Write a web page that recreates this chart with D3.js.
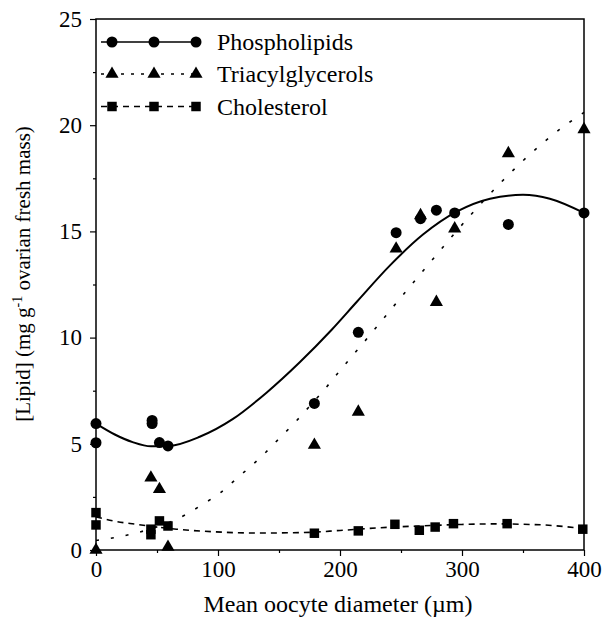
<!DOCTYPE html>
<html>
<head>
<meta charset="utf-8">
<script src="https://cdn.jsdelivr.net/npm/d3@7"></script>
<style>
  body { margin: 0; background: #fff; }
  svg text { font-family: "Liberation Serif", "Times New Roman", serif; fill: #000; }
</style>
</head>
<body>
<div class="chart"></div>
<script>
// measured points, x = mean oocyte diameter (um), y = lipid (mg/g)
var phosX = [0, 0, 46, 46, 52, 59, 179, 215, 246, 266, 279, 294, 338, 400];
var phosY = [5.95, 5.05, 6.1, 5.95, 5.06, 4.9, 6.9, 10.25, 14.94, 15.6, 16.0, 15.87, 15.33, 15.87];

var trigX = [0, 45, 52, 59, 179, 215, 246, 266, 279, 294, 338, 400];
var trigY = [0, 3.4, 2.86, 0.14, 4.94, 6.5, 14.18, 15.75, 11.67, 15.13, 18.67, 19.8];

var cholX = [0, 0, 45, 45, 52, 59, 179, 215, 245, 265, 278, 293, 337, 399];
var cholY = [1.76, 1.18, 0.72, 0.98, 1.37, 1.13, 0.79, 0.9, 1.21, 0.93, 1.08, 1.24, 1.24, 0.98];

// fitted curves
var phosFitX = [0, 15, 30, 45, 60, 85, 112, 140, 167, 193, 214, 241, 268, 296, 323, 350, 372, 400];
var phosFitY = [5.95, 5.45, 5.08, 4.88, 4.9, 5.33, 6.16, 7.42, 8.84, 10.36, 11.7, 13.4, 14.85, 15.94, 16.54, 16.72, 16.54, 15.87];

var trigFitX = [0, 15, 30, 45, 60, 74, 88, 102, 114, 127, 139, 151, 163, 174, 186, 197, 208, 219, 241, 274, 308, 331, 354, 380, 400];
var trigFitY = [0.45, 0.58, 0.76, 1.0, 1.3, 1.68, 2.17, 2.7, 3.3, 3.95, 4.59, 5.3, 6.0, 6.7, 7.47, 8.24, 9.0, 9.74, 11.27, 13.55, 15.83, 17.25, 18.54, 19.8, 20.6];

var cholFitX = [0, 14, 33, 66, 96, 132, 170, 200, 230, 265, 298, 326, 350, 367, 400];
var cholFitY = [1.56, 1.37, 1.21, 0.98, 0.86, 0.8, 0.82, 0.92, 1.04, 1.13, 1.2, 1.23, 1.21, 1.18, 1.0];

var xTicks = [0, 100, 200, 300, 400];
var xMinor = [50, 150, 250, 350];
var yTicks = [0, 5, 10, 15, 20, 25];
var yMinor = [2.5, 7.5, 12.5, 17.5, 22.5];

var seriesNames = ["Phospholipids", "Triacylglycerols", "Cholesterol"];

var W = 604, H = 621;
var pLeft = 96, pRight = 584, pTop = 19, pBottom = 550;

var svg = d3.select(".chart").append("svg").attr("width", W).attr("height", H);

var x = d3.scaleLinear().domain([0, 400]).range([pLeft, pRight]);
var y = d3.scaleLinear().domain([0, 25]).range([pBottom, pTop]);

function zip(a, b) { return a.map(function(v, i) { return [v, b[i]]; }); }

//frame
svg.append("rect").attr("x", pLeft).attr("y", pTop).attr("width", pRight - pLeft).attr("height", pBottom - pTop)
    .attr("fill", "none").attr("stroke", "#000").attr("stroke-width", 1.5);

//axes
var fs = "24px";
svg.append("g").attr("transform", "translate(0," + pBottom + ")")
    .call(d3.axisBottom(x).tickValues(xTicks).tickSize(6).tickPadding(5).tickFormat(d3.format("d")));
svg.append("g").attr("transform", "translate(0," + pBottom + ")")
    .call(d3.axisBottom(x).tickValues(xMinor).tickSize(3).tickFormat(""));
svg.append("g").attr("transform", "translate(" + pLeft + ",0)")
    .call(d3.axisLeft(y).tickValues(yTicks).tickSize(6).tickPadding(8).tickFormat(d3.format("d")));
svg.append("g").attr("transform", "translate(" + pLeft + ",0)")
    .call(d3.axisLeft(y).tickValues(yMinor).tickSize(3).tickFormat(""));
svg.selectAll(".domain").remove();
svg.selectAll(".tick line").attr("stroke", "#000").attr("stroke-width", 1.2);
svg.selectAll(".tick text").style("font-size", "23px").attr("font-family", null);

//fitted lines
var line = d3.line().x(function(d) { return x(d[0]); }).y(function(d) { return y(d[1]); }).curve(d3.curveMonotoneX);

svg.append("path").datum(zip(phosFitX, phosFitY)).attr("d", line)
    .attr("fill", "none").attr("stroke", "#000").attr("stroke-width", 2);
svg.append("path").datum(zip(trigFitX, trigFitY)).attr("d", line)
    .attr("fill", "none").attr("stroke", "#000").attr("stroke-width", 1.6).attr("stroke-dasharray", "3,12");
svg.append("path").datum(zip(cholFitX, cholFitY)).attr("d", line)
    .attr("fill", "none").attr("stroke", "#000").attr("stroke-width", 1.6).attr("stroke-dasharray", "6,5");

//markers
var tri = d3.symbol().type(d3.symbolTriangle).size(75);
var sq = d3.symbol().type(d3.symbolSquare).size(90);

svg.append("g").selectAll("circle").data(zip(phosX, phosY)).enter().append("circle")
    .attr("cx", function(d) { return x(d[0]); }).attr("cy", function(d) { return y(d[1]); })
    .attr("r", 5.5).attr("fill", "#000");
svg.append("g").selectAll("path").data(zip(trigX, trigY)).enter().append("path")
    .attr("d", tri).attr("fill", "#000")
    .attr("transform", function(d) { return "translate(" + x(d[0]) + "," + y(d[1]) + ")"; });
svg.append("g").selectAll("path").data(zip(cholX, cholY)).enter().append("path")
    .attr("d", sq).attr("fill", "#000")
    .attr("transform", function(d) { return "translate(" + x(d[0]) + "," + y(d[1]) + ")"; });

//legend
var legRows = [42, 74, 106.5];
var legMarks = [112, 154, 196];
var leg = svg.append("g");
var dashes = [null, "3,7", "6,5"];
seriesNames.forEach(function(name, i) {
    var g = leg.append("g").attr("transform", "translate(0," + legRows[i] + ")");
    g.append("line").attr("x1", 101).attr("x2", 197).attr("stroke", "#000")
        .attr("stroke-width", i == 0 ? 1.5 : 1.3).attr("stroke-dasharray", dashes[i]);
    legMarks.forEach(function(mx) {
        if (i == 0) g.append("circle").attr("cx", mx).attr("r", 5.5).attr("fill", "#000");
        else g.append("path").attr("d", i == 1 ? tri : sq).attr("fill", "#000")
            .attr("transform", "translate(" + mx + ",0)");
    });
    g.append("text").attr("x", 217).attr("y", 8).style("font-size", fs).text(name);
});

//axis titles
svg.append("text").attr("x", (pLeft + pRight) / 2 - 2).attr("y", 612).attr("text-anchor", "middle")
    .style("font-size", fs).text("Mean oocyte diameter (\u00b5m)");

var yl = svg.append("text").attr("transform", "translate(30," + 274 + ") rotate(-90)")
    .attr("text-anchor", "middle").style("font-size", "21px");
yl.append("tspan").text("[Lipid] (mg g");
yl.append("tspan").attr("dy", -8).style("font-size", "14px").text("-1");
yl.append("tspan").attr("dy", 8).text(" ovarian fresh mass)");
</script>
</body>
</html>
